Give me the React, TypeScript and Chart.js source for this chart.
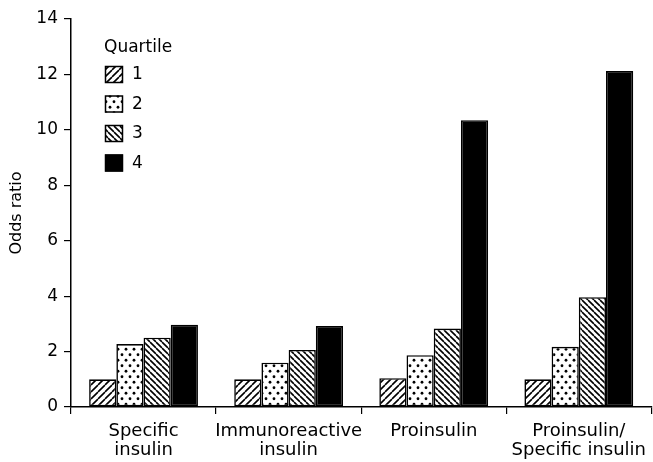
import React, { useEffect, useRef } from "react";
import { Chart, registerables } from "chart.js";

Chart.register(...registerables);

const categories: string[][] = [
  ["Specific", "insulin"],
  ["Immunoreactive", "insulin"],
  ["Proinsulin"],
  ["Proinsulin/", "Specific insulin"],
];
const quartileLabels = ["1", "2", "3", "4"];
const quartile1 = [1.0, 1.0, 1.04, 1.0];
const quartile2 = [2.27, 1.6, 1.87, 2.17];
const quartile3 = [2.5, 2.06, 2.83, 3.96];
const quartile4 = [2.97, 2.92, 10.35, 12.12];
const yTicks = [0, 2, 4, 6, 8, 10, 12, 14];
const yTitle = "Odds ratio";
const legendTitle = "Quartile";

const WIDE = "'DejaVu Sans', sans-serif";

function makeTile(w: number, h: number, draw: (c: CanvasRenderingContext2D) => void): CanvasPattern | string {
  const cv = document.createElement("canvas");
  cv.width = w;
  cv.height = h;
  const c = cv.getContext("2d")!;
  c.fillStyle = "#fff";
  c.fillRect(0, 0, w, h);
  draw(c);
  const ctx = document.createElement("canvas").getContext("2d")!;
  return ctx.createPattern(cv, "repeat") || "#fff";
}

function forwardHatch(p: number) {
  return makeTile(p, p, (c) => {
    c.strokeStyle = "#000";
    c.lineWidth = 1.6;
    c.beginPath();
    for (let k = -1; k <= 1; k++) {
      c.moveTo(k * p, p);
      c.lineTo(k * p + p, 0);
    }
    c.stroke();
  });
}

function backHatch(p: number) {
  return makeTile(p, p, (c) => {
    c.strokeStyle = "#000";
    c.lineWidth = 1.6;
    c.beginPath();
    for (let k = -1; k <= 1; k++) {
      c.moveTo(k * p, 0);
      c.lineTo(k * p + p, p);
    }
    c.stroke();
  });
}

function dots() {
  return makeTile(8, 11, (c) => {
    c.fillStyle = "#000";
    c.beginPath();
    c.arc(2, 2.75, 1.4, 0, Math.PI * 2);
    c.fill();
    c.beginPath();
    c.arc(6, 8.25, 1.4, 0, Math.PI * 2);
    c.fill();
  });
}

export default function App() {
  const ref = useRef<HTMLCanvasElement | null>(null);

  useEffect(() => {
    if (!ref.current) return;
    const fills = [forwardHatch(7), dots(), backHatch(6), "#000"];
    const series = [quartile1, quartile2, quartile3, quartile4];

    const legendPlugin = {
      id: "quartileLegend",
      afterDraw(chart: any) {
        const ctx = chart.ctx as CanvasRenderingContext2D;
        ctx.save();
        ctx.font = `17px ${WIDE}`;
        ctx.fillStyle = "#000";
        ctx.textBaseline = "alphabetic";
        ctx.textAlign = "left";
        ctx.fillText(legendTitle, 104, 52);
        chart.data.datasets.forEach((ds: any, i: number) => {
          const y = 66 + i * 29.5;
          ctx.fillStyle = ds.backgroundColor;
          ctx.fillRect(105, y, 18, 17);
          ctx.strokeStyle = "#000";
          ctx.lineWidth = 1.5;
          ctx.strokeRect(105.5, y + 0.5, 17, 16);
          ctx.fillStyle = "#000";
          ctx.textBaseline = "middle";
          ctx.fillText(ds.label, 132, y + 9);
        });
        ctx.restore();
      },
    };

    const chart = new Chart(ref.current, {
      type: "bar",
      data: {
        labels: categories,
        datasets: series.map((d, i) => ({
          label: quartileLabels[i],
          data: d,
          backgroundColor: fills[i] as any,
          borderColor: "#000",
          borderWidth: 1.6,
          borderSkipped: false,
          categoryPercentage: 0.75,
          barPercentage: 1.0,
        })),
      },
      options: {
        responsive: false,
        animation: false,
        events: [],
        layout: { padding: { top: 19, right: 0, left: 0, bottom: 0 } },
        plugins: {
          legend: { display: false },
          tooltip: { enabled: false },
        },
        scales: {
          x: {
            grid: {
              display: true,
              drawOnChartArea: false,
              drawTicks: true,
              tickLength: 7,
              color: "#000",
              lineWidth: 1.2,
            },
            border: { display: true, color: "#000", width: 1.5 },
            ticks: {
              color: "#000",
              font: { family: WIDE, size: 18, lineHeight: 1.1 },
              padding: 7,
              maxRotation: 0,
              autoSkip: false,
            },
            afterFit: (s: any) => {
              s.height = 55;
            },
          },
          y: {
            min: 0,
            max: 14,
            afterBuildTicks: (s: any) => {
              s.ticks = yTicks.map((v) => ({ value: v }));
            },
            grid: {
              display: true,
              drawOnChartArea: false,
              drawTicks: true,
              tickLength: 7,
              color: "#000",
              lineWidth: 1.2,
            },
            border: { display: true, color: "#000", width: 1.5 },
            ticks: {
              color: "#000",
              font: { family: WIDE, size: 17 },
              padding: 6,
            },
            title: {
              display: true,
              text: yTitle,
              color: "#000",
              font: { family: WIDE, size: 16 },
              padding: { top: 7, bottom: 6 },
            },
            afterFit: (s: any) => {
              s.width = 71;
            },
          },
        },
      },
      plugins: [legendPlugin],
    });
    return () => chart.destroy();
  }, []);

  return (
    <div style={{ position: "absolute", left: 0, top: 0, width: 653, height: 462, background: "#fff" }}>
      <canvas ref={ref} width={653} height={462} style={{ width: 653, height: 462 }} />
    </div>
  );
}
